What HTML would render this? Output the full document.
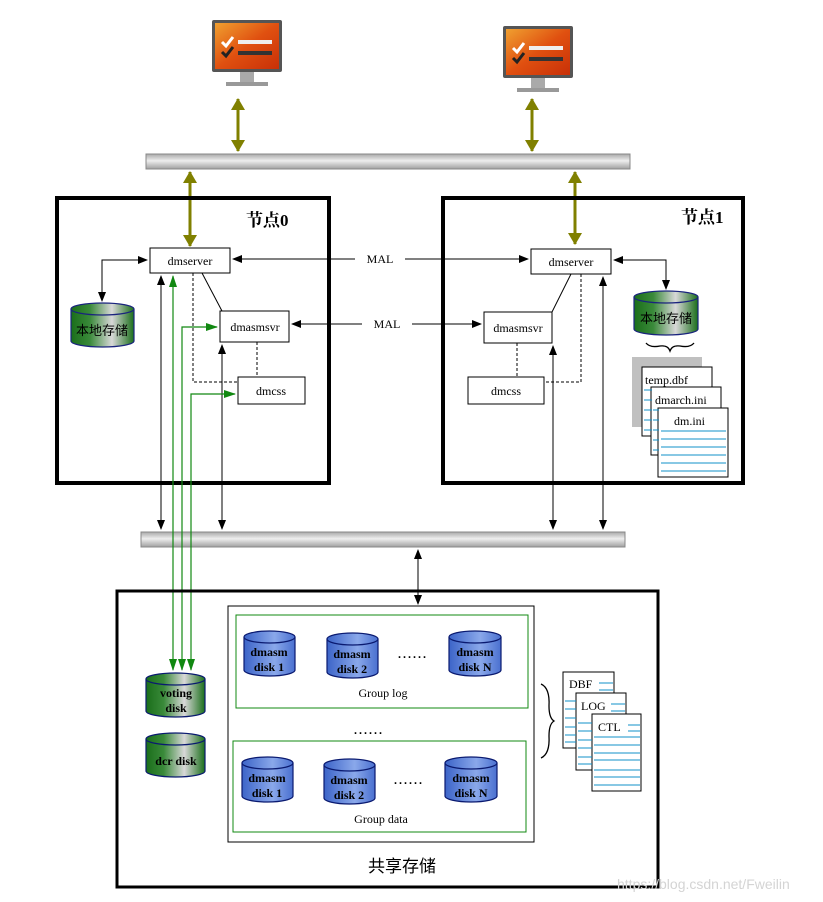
<!DOCTYPE html>
<html><head><meta charset="utf-8"><style>body{margin:0;background:#fff}svg{display:block}text{font-family:"Liberation Serif","Noto Serif CJK SC",serif}</style></head><body>
<svg width="823" height="902" viewBox="0 0 823 902" xmlns="http://www.w3.org/2000/svg">
<defs>
<linearGradient id="bar" x1="0" y1="0" x2="0" y2="1"><stop offset="0" stop-color="#a8a8a8"/><stop offset=".45" stop-color="#eeeeee"/><stop offset="1" stop-color="#a0a0a0"/></linearGradient>
<linearGradient id="grn" x1="0" y1="0" x2="1" y2="0"><stop offset="0" stop-color="#1a6e1a"/><stop offset=".3" stop-color="#3a8a3a"/><stop offset=".65" stop-color="#d8d8d8"/><stop offset="1" stop-color="#1a6e1a"/></linearGradient>
<linearGradient id="blu" x1="0" y1="0" x2="1" y2="0"><stop offset="0" stop-color="#3c64c8"/><stop offset=".6" stop-color="#8aa8ea"/><stop offset="1" stop-color="#4a70d0"/></linearGradient>
<linearGradient id="scr" x1="0" y1="0" x2="1" y2="1"><stop offset="0" stop-color="#f0a030"/><stop offset=".5" stop-color="#e05010"/><stop offset="1" stop-color="#c83008"/></linearGradient>
<marker id="ab" markerWidth="10" markerHeight="8" refX="9" refY="4" orient="auto-start-reverse" markerUnits="userSpaceOnUse"><path d="M0,0L10,4L0,8z" fill="#000"/></marker>
<marker id="ag" markerWidth="12" markerHeight="8" refX="11" refY="4" orient="auto-start-reverse" markerUnits="userSpaceOnUse"><path d="M0,0L12,4L0,8z" fill="#118811"/></marker>
<marker id="ao" markerWidth="12" markerHeight="14" refX="11" refY="7" orient="auto-start-reverse" markerUnits="userSpaceOnUse"><path d="M0,0L12,7L0,14z" fill="#808000"/></marker>
<g id="mon"><rect x="0" y="0" width="70" height="52" fill="#555" rx="2"/><rect x="3" y="3" width="64" height="46" fill="url(#scr)"/><path d="M10,22l4,4l7,-9" stroke="#fff" stroke-width="3" fill="none"/><path d="M10,32l4,4l7,-9" stroke="#222" stroke-width="3" fill="none"/><rect x="26" y="20" width="34" height="4" fill="#eee"/><rect x="26" y="31" width="34" height="4" fill="#333"/><rect x="28" y="52" width="14" height="10" fill="#aaa"/><rect x="14" y="62" width="42" height="4" fill="#999"/></g>
</defs>

<use href="#mon" x="212" y="20"/>
<use href="#mon" x="503" y="26"/>

<rect x="146" y="154" width="484" height="15" fill="url(#bar)" stroke="#888"/>
<rect x="141" y="532" width="484" height="15" fill="url(#bar)" stroke="#888"/>

<g stroke="#808000" stroke-width="3">
<line x1="238" y1="99" x2="238" y2="151" marker-start="url(#ao)" marker-end="url(#ao)"/>
<line x1="532" y1="99" x2="532" y2="151" marker-start="url(#ao)" marker-end="url(#ao)"/>
<line x1="190" y1="172" x2="190" y2="246" marker-start="url(#ao)" marker-end="url(#ao)"/>
<line x1="575" y1="172" x2="575" y2="244" marker-start="url(#ao)" marker-end="url(#ao)"/>
</g>

<rect x="57" y="198" width="272" height="285" fill="none" stroke="#000" stroke-width="4"/>
<rect x="443" y="198" width="300" height="285" fill="none" stroke="#000" stroke-width="4"/>
<text x="246" y="226" font-size="17" font-weight="bold">节点0</text>
<text x="681" y="223" font-size="17" font-weight="bold">节点1</text>

<g fill="#fff" stroke="#000" stroke-width="1">
<rect x="150" y="248" width="80" height="25"/>
<rect x="220" y="311" width="69" height="31"/>
<rect x="238" y="377" width="67" height="27"/>
<rect x="531" y="249" width="80" height="25"/>
<rect x="484" y="312" width="68" height="31"/>
<rect x="468" y="377" width="76" height="27"/>
</g>
<g font-size="12" text-anchor="middle">
<text x="190" y="265">dmserver</text><text x="255" y="331">dmasmsvr</text><text x="271" y="395">dmcss</text>
<text x="571" y="266">dmserver</text><text x="518" y="332">dmasmsvr</text><text x="506" y="395">dmcss</text>
</g>

<g stroke="#000" stroke-width="1" fill="none">
<line x1="233" y1="259" x2="528" y2="259" marker-start="url(#ab)" marker-end="url(#ab)"/>
<line x1="292" y1="324" x2="481" y2="324" marker-start="url(#ab)" marker-end="url(#ab)"/>
<path d="M147,260H102V301" marker-start="url(#ab)" marker-end="url(#ab)"/>
<path d="M614,260H666V289" marker-start="url(#ab)" marker-end="url(#ab)"/>
<line x1="202" y1="273" x2="222" y2="311"/>
<line x1="571" y1="274" x2="552" y2="312"/>
<line x1="161" y1="529" x2="161" y2="276" marker-start="url(#ab)" marker-end="url(#ab)"/>
<line x1="222" y1="529" x2="222" y2="345" marker-start="url(#ab)" marker-end="url(#ab)"/>
<line x1="553" y1="529" x2="553" y2="346" marker-start="url(#ab)" marker-end="url(#ab)"/>
<line x1="603" y1="529" x2="603" y2="277" marker-start="url(#ab)" marker-end="url(#ab)"/>
<line x1="418" y1="550" x2="418" y2="604" marker-start="url(#ab)" marker-end="url(#ab)"/>
<g stroke-dasharray="3,2"><path d="M193,273V382H238"/><path d="M257,342V377"/><path d="M581,274V382H544"/><path d="M517,343V377"/></g>
</g>
<rect x="355" y="251" width="50" height="14" fill="#fff"/><text x="380" y="263" font-size="12" text-anchor="middle">MAL</text>
<rect x="362" y="316" width="50" height="14" fill="#fff"/><text x="387" y="328" font-size="12" text-anchor="middle">MAL</text>

<g stroke="#118811" stroke-width="1.2" fill="none">
<line x1="173" y1="668" x2="173" y2="276" marker-end="url(#ag)"/>
<path d="M182,668V327H217" marker-end="url(#ag)"/>
<path d="M191,668V394H235" marker-end="url(#ag)"/>
<line x1="173" y1="660" x2="173" y2="670" marker-end="url(#ag)"/>
<line x1="182" y1="660" x2="182" y2="670" marker-end="url(#ag)"/>
<line x1="191" y1="660" x2="191" y2="670" marker-end="url(#ag)"/>
</g>

<g stroke="#1a237e" stroke-width="1.2">
<path d="M71,309V341A31.5,6 0 0 0 134,341V309" fill="url(#grn)"/><ellipse cx="102.5" cy="309" rx="31.5" ry="6" fill="url(#grn)"/>
<path d="M634,297V329A32,6 0 0 0 698,329V297" fill="url(#grn)"/><ellipse cx="666" cy="297" rx="32" ry="6" fill="url(#grn)"/>
</g>
<text x="102" y="335" font-size="13" text-anchor="middle" style="font-family:'Noto Sans CJK SC',sans-serif">本地存储</text>
<text x="666" y="323" font-size="13" text-anchor="middle" style="font-family:'Noto Sans CJK SC',sans-serif">本地存储</text>
<path d="M646,343q4,5 14,3q8,-1 10,5q2,-6 10,-5q10,2 14,-3" stroke="#000" fill="none" stroke-width="1.3"/>

<rect x="632" y="357" width="70" height="70" fill="#c0c0c0"/>
<g stroke="#000" fill="#fff">
<rect x="642" y="367" width="70" height="69"/>
<rect x="651" y="387" width="70" height="68"/>
<rect x="658" y="408" width="70" height="69"/>
</g>
<g stroke="#1090c8" stroke-width="1">
<path d="M644,390h8M644,400h8M644,410h8M644,420h8M644,430h8M653,410h6M653,420h6M653,430h6M653,440h6M653,450h6"/>
<path d="M661,431h65M661,439h65M661,447h65M661,455h65M661,463h65M661,471h65"/>
</g>
<text x="645" y="384" font-size="12">temp.dbf</text>
<text x="655" y="404" font-size="12">dmarch.ini</text>
<text x="674" y="425" font-size="12">dm.ini</text>

<rect x="117" y="591" width="541" height="296" fill="none" stroke="#000" stroke-width="3"/>
<rect x="228" y="606" width="306" height="236" fill="#fff" stroke="#000"/>
<rect x="236" y="615" width="292" height="93" fill="none" stroke="#118811"/>
<rect x="233" y="741" width="293" height="91" fill="none" stroke="#118811"/>

<g stroke="#0a1a70" stroke-width="1.2" fill="url(#blu)">
<path d="M244,637V670A25.5,6 0 0 0 295,670V637"/><ellipse cx="269.5" cy="637" rx="25.5" ry="6"/>
<path d="M327,639V672A25.5,6 0 0 0 378,672V639"/><ellipse cx="352.5" cy="639" rx="25.5" ry="6"/>
<path d="M449,637V670A26,6 0 0 0 501,670V637"/><ellipse cx="475" cy="637" rx="26" ry="6"/>
<path d="M242,763V796A25.5,6 0 0 0 293,796V763"/><ellipse cx="267.5" cy="763" rx="25.5" ry="6"/>
<path d="M324,765V798A25.5,6 0 0 0 375,798V765"/><ellipse cx="349.5" cy="765" rx="25.5" ry="6"/>
<path d="M445,763V796A26,6 0 0 0 497,796V763"/><ellipse cx="471" cy="763" rx="26" ry="6"/>
</g>
<g font-size="12" font-weight="bold" text-anchor="middle">
<text x="269" y="656">dmasm</text><text x="269" y="671">disk 1</text>
<text x="352" y="658">dmasm</text><text x="352" y="673">disk 2</text>
<text x="475" y="656">dmasm</text><text x="475" y="671">disk N</text>
<text x="267" y="782">dmasm</text><text x="267" y="797">disk 1</text>
<text x="349" y="784">dmasm</text><text x="349" y="799">disk 2</text>
<text x="471" y="782">dmasm</text><text x="471" y="797">disk N</text>
<text x="398" y="658" text-anchor="start" letter-spacing="2">......</text>
<text x="394" y="784" text-anchor="start" letter-spacing="2">......</text>
<text x="354" y="734" text-anchor="start" letter-spacing="2">......</text>
</g>
<text x="383" y="697" font-size="12" text-anchor="middle">Group log</text>
<text x="381" y="823" font-size="12" text-anchor="middle">Group data</text>

<g stroke="#0a1a70" stroke-width="1.2" fill="url(#grn)">
<path d="M146,679V711A29.5,6 0 0 0 205,711V679"/><ellipse cx="175.5" cy="679" rx="29.5" ry="6"/>
<path d="M146,739V771A29.5,6 0 0 0 205,771V739"/><ellipse cx="175.5" cy="739" rx="29.5" ry="6"/>
</g>
<g font-size="12" font-weight="bold" text-anchor="middle">
<text x="176" y="697">voting</text><text x="176" y="712">disk</text><text x="176" y="765">dcr disk</text>
</g>
<text x="368" y="872" font-size="17" style="font-family:'Noto Sans CJK SC',sans-serif">共享存储</text>

<path d="M541,684q9,4 8,22q0,12 5,15q-5,3 -5,15q1,18 -8,22" stroke="#000" fill="none" stroke-width="1.3"/>
<g stroke="#000" fill="#fff">
<rect x="563" y="672" width="51" height="76"/>
<rect x="576" y="693" width="50" height="77"/>
<rect x="592" y="714" width="49" height="77"/>
</g>
<g stroke="#1090c8" stroke-width="1">
<path d="M599,683h14M599,690h14M565,701h11M565,709h11M565,718h11M565,727h11M565,735h11M565,742h11"/>
<path d="M611,704h14M611,711h14M578,723h14M578,731h14M578,740h14M578,748h14M578,757h14M578,764h14"/>
<path d="M628,725h12M628,731h12M594,737h46M594,745h46M594,753h46M594,760h46M594,770h46M594,777h46M594,785h46"/>
</g>
<text x="569" y="688" font-size="12">DBF</text>
<text x="581" y="710" font-size="12">LOG</text>
<text x="598" y="731" font-size="12">CTL</text>
<text x="617" y="889" font-size="14" fill="#d4d4d4" style="font-family:'Liberation Sans',sans-serif">https://blog.csdn.net/Fweilin</text>
</svg>
</body></html>
